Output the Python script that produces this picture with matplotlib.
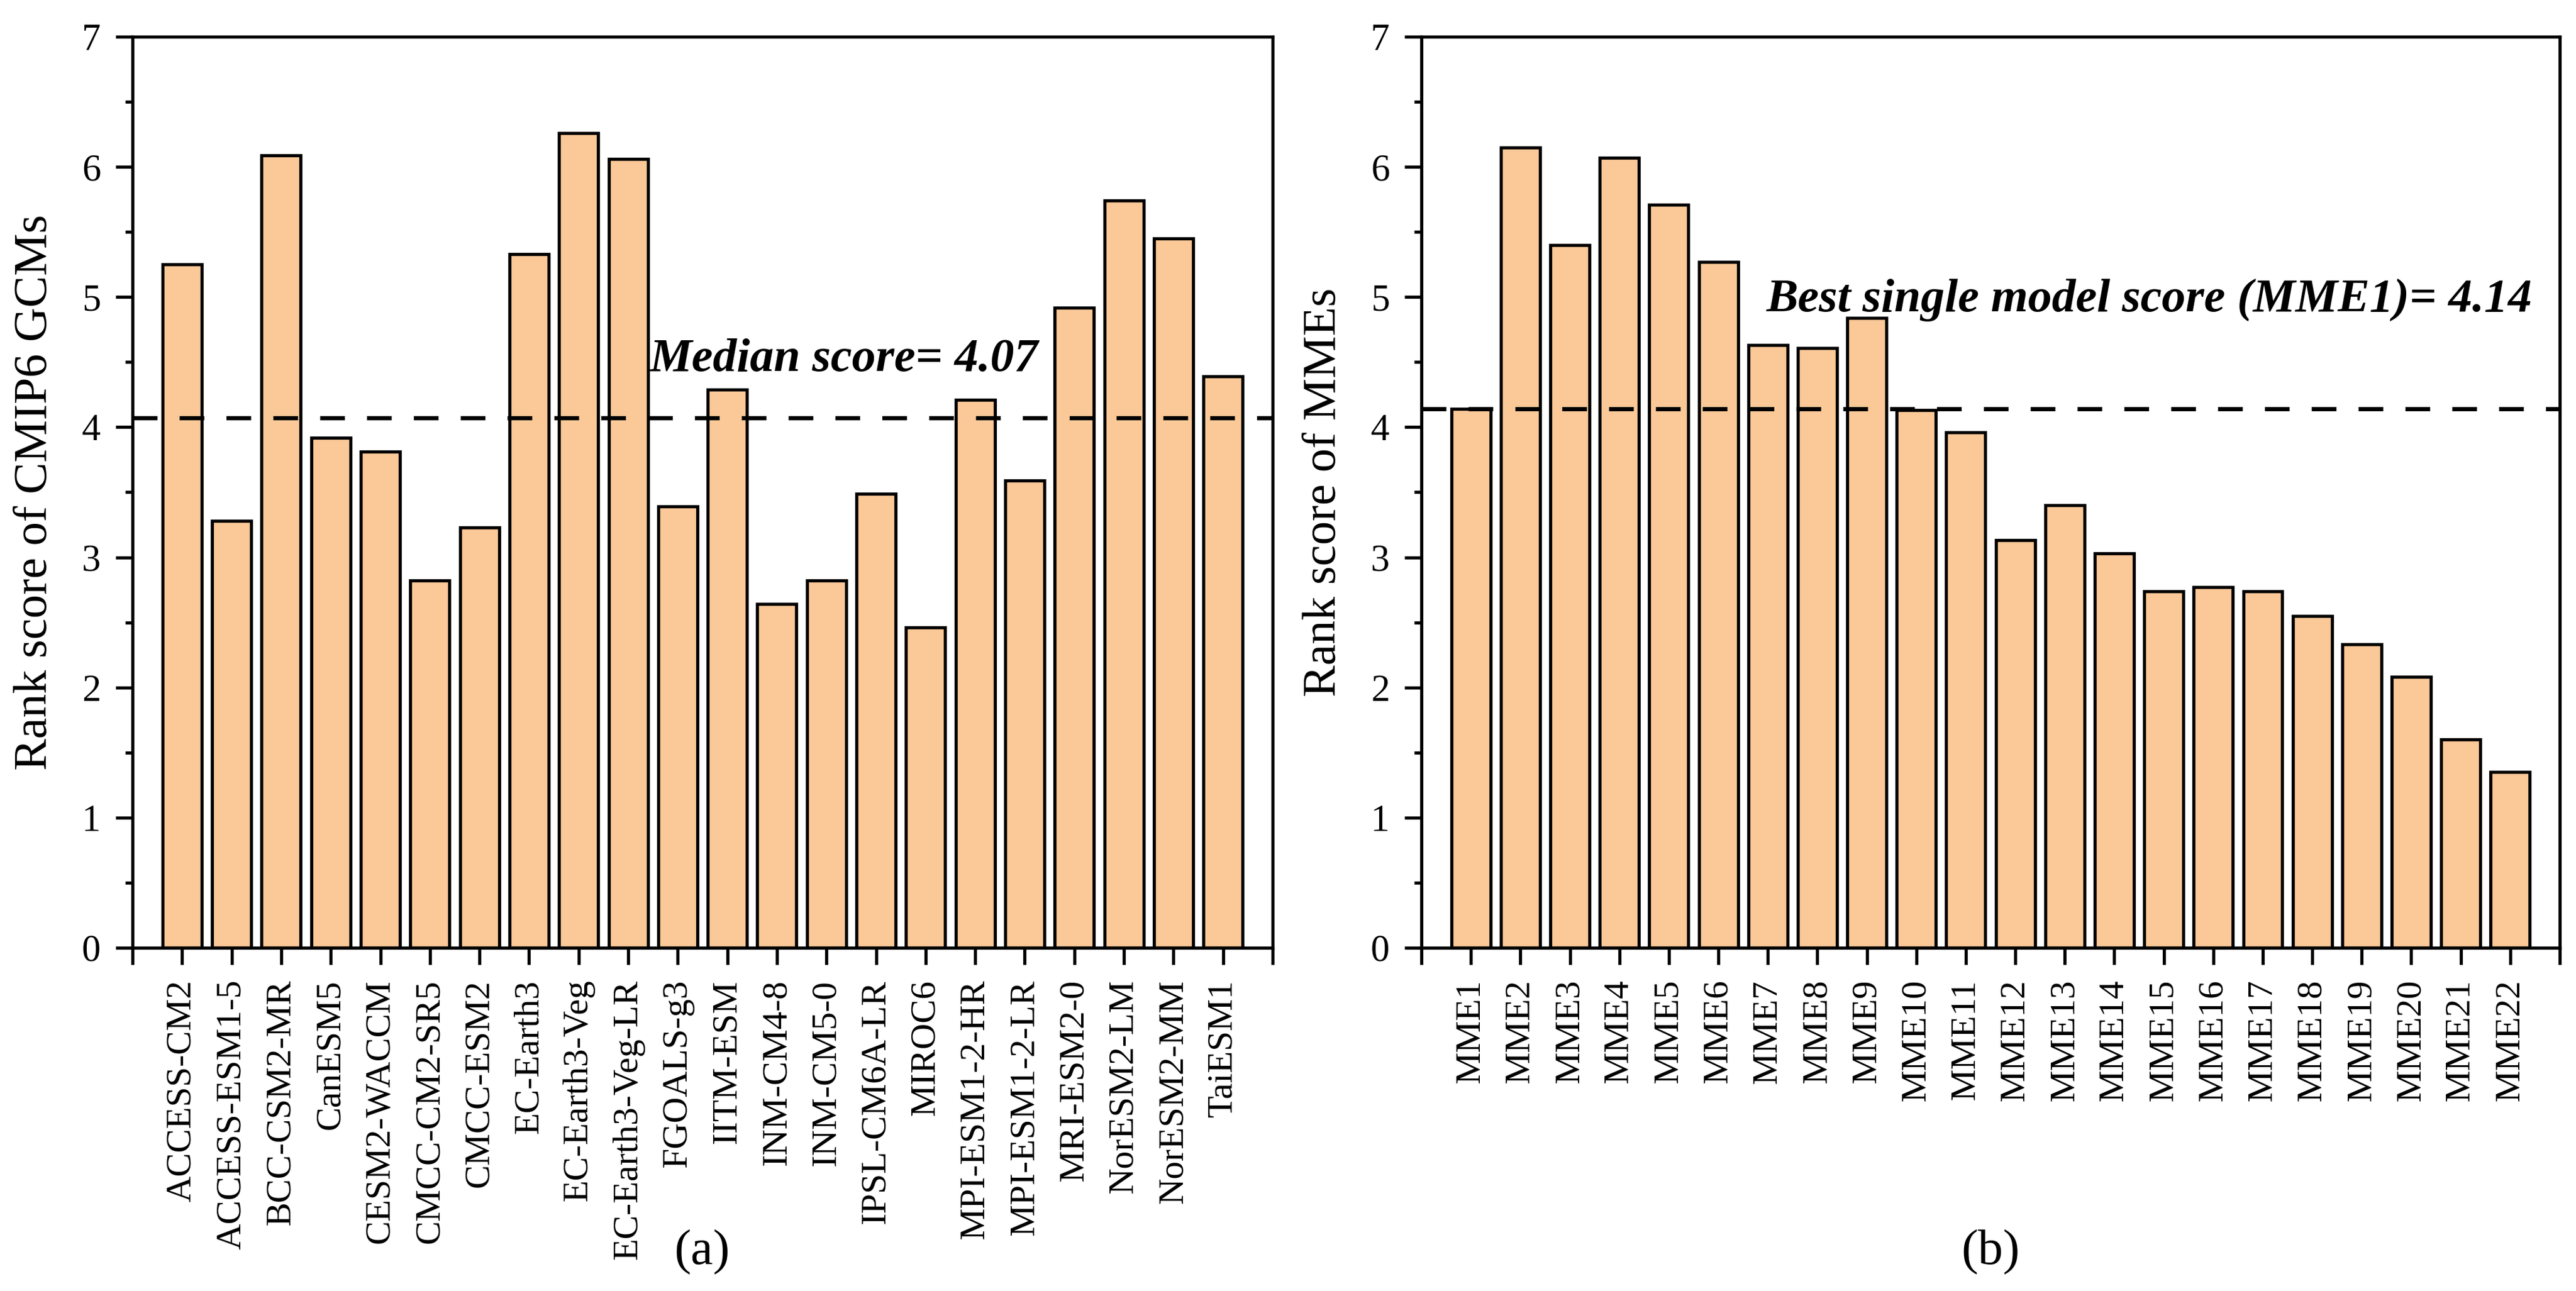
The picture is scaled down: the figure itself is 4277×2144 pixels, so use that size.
import matplotlib
matplotlib.use('Agg')
import matplotlib.pyplot as plt

# model names and rank scores, panel (a)
gcm_names = ['ACCESS-CM2', 'ACCESS-ESM1-5', 'BCC-CSM2-MR', 'CanESM5', 'CESM2-WACCM',
             'CMCC-CM2-SR5', 'CMCC-ESM2', 'EC-Earth3', 'EC-Earth3-Veg', 'EC-Earth3-Veg-LR',
             'FGOALS-g3', 'IITM-ESM', 'INM-CM4-8', 'INM-CM5-0', 'IPSL-CM6A-LR', 'MIROC6',
             'MPI-ESM1-2-HR', 'MPI-ESM1-2-LR', 'MRI-ESM2-0', 'NorESM2-LM', 'NorESM2-MM', 'TaiESM1']
gcm_scores = [5.25, 3.28, 6.09, 3.92, 3.81, 2.82, 3.23, 5.33, 6.26, 6.06,
              3.39, 4.29, 2.64, 2.82, 3.49, 2.46, 4.21, 3.59, 4.92, 5.74, 5.45, 4.39]
median_score = 4.07

# multi-model ensembles, panel (b)
mme_names = ['MME' + str(i) for i in range(1, 23)]
mme_scores = [4.14, 6.15, 5.40, 6.07, 5.71, 5.27, 4.63, 4.61, 4.84, 4.13, 3.96,
              3.13, 3.40, 3.03, 2.74, 2.77, 2.74, 2.55, 2.33, 2.08, 1.60, 1.35]
best_single = 4.14

plt.rcParams['font.family'] = ['Liberation Serif', 'DejaVu Serif']

bar_color = '#FBC998'
lw = 3.8

fig = plt.figure(figsize=(42.77, 21.44), dpi=100)
ax1 = fig.add_axes([0.05144, 0.26586, 0.44260, 0.70569])
ax2 = fig.add_axes([0.55179, 0.26586, 0.44190, 0.70569])


def draw_panel(ax, names, scores, ref, ylabel, note, note_x, note_y):
    x = list(range(len(names)))
    ax.bar(x, scores, width=0.79, color=bar_color, edgecolor='black', linewidth=lw, zorder=2)
    # reference line drawn over the bars
    ax.axhline(ref, color='black', linewidth=5, linestyle=(0, (5.9, 5.3)), zorder=3)
    ax.text(note_x, note_y, note, fontsize=57, fontweight='bold', fontstyle='italic',
            ha='left', va='baseline', zorder=4)
    ax.set_xlim(-1, len(names))
    ax.set_ylim(0, 7)
    ax.set_xticks(range(-1, len(names) + 1))
    ax.set_xticklabels([''] + names + [''], rotation=90, fontsize=43)
    ax.set_yticks(range(0, 8))
    ax.set_yticks([i + 0.5 for i in range(7)], minor=True)
    ax.tick_params(axis='y', labelsize=45)
    ax.tick_params(which='major', direction='out', length=20, width=3.8, pad=18)
    ax.tick_params(which='minor', direction='out', length=9, width=3.8)
    ax.tick_params(axis='x', which='minor', bottom=False)
    for s in ax.spines.values():
        s.set_linewidth(lw)
    ax.set_ylabel(ylabel, fontsize=57, labelpad=30)


draw_panel(ax1, gcm_names, gcm_scores, median_score, 'Rank score of CMIP6 GCMs',
           'Median score= 4.07', 9.42, 4.43)
draw_panel(ax2, mme_names, mme_scores, best_single, 'Rank score of MMEs',
           'Best single model score (MME1)= 4.14', 5.97, 4.89)

fig.text(0.2726, 0.030, '(a)', fontsize=60, ha='center', va='center')
fig.text(0.7727, 0.030, '(b)', fontsize=60, ha='center', va='center')

fig.savefig('out.png', dpi=100)
